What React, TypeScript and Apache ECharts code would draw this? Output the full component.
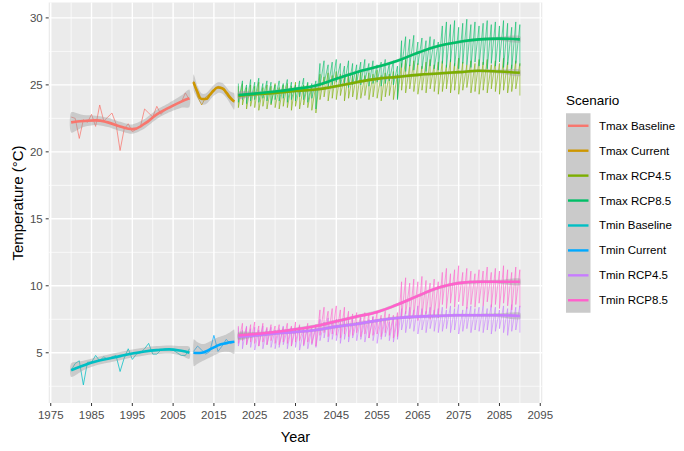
import React, { useEffect, useRef } from "react";
import * as echarts from "echarts";

// ---- Scenario names and colours ----
const scenarioNames = [
  "Tmax Baseline",
  "Tmax Current",
  "Tmax RCP4.5",
  "Tmax RCP8.5",
  "Tmin Baseline",
  "Tmin Current",
  "Tmin RCP4.5",
  "Tmin RCP8.5",
];
const scenarioColors = [
  "#F8766D",
  "#CD9600",
  "#7CAE00",
  "#00BE67",
  "#00BFC4",
  "#00A9FF",
  "#C77CFF",
  "#FF61CC",
];

// ---- Axis ticks ----
const xTicks = [1975, 1985, 1995, 2005, 2015, 2025, 2035, 2045, 2055, 2065, 2075, 2085, 2095];
const xMinorTicks = [1980, 1990, 2000, 2010, 2020, 2030, 2040, 2050, 2060, 2070, 2080, 2090];
const yTicks = [5, 10, 15, 20, 25, 30];
const yMinorTicks = [2.5, 7.5, 12.5, 17.5, 22.5, 27.5];
const xRange = [1974.5, 2095.5];
const yRange = [1.25, 31.15];

// ---- Observed annual values ----
const baselineStart = 1980; // 1980-2009
const currentStart = 2010; // 2010-2020
const rcpStart = 2021; // 2021-2090

const tmaxBaseline = [
  22.6, 22.5, 21.0, 22.4, 22.2, 22.8, 21.9, 23.5, 22.3, 22.6,
  22.9, 22.1, 20.1, 21.7, 22.1, 21.5, 21.7, 21.9, 23.2, 22.9,
  22.6, 23.4, 22.8, 23.1, 23.3, 23.5, 23.6, 23.7, 24.4, 23.9,
];
const tminBaseline = [
  3.7, 4.2, 4.4, 2.6, 4.3, 4.3, 4.8, 4.4, 4.7, 4.5,
  4.7, 4.8, 3.6, 4.6, 5.3, 4.5, 4.9, 5.0, 5.3, 5.7,
  4.9, 4.9, 5.2, 5.3, 5.3, 5.2, 5.0, 4.8, 4.8, 5.3,
];
const tmaxCurrent = [25.3, 24.1, 23.5, 24.1, 24.3, 24.5, 24.9, 24.8, 24.3, 23.9, 23.7];
const tminCurrent = [5.1, 5.5, 5.2, 4.9, 5.1, 6.3, 5.1, 5.5, 6.0, 5.7, 5.8];

// ---- Projected annual ranges (high / low of each year) ----
const tmaxRcp85High = [
  25.1, 25.3, 25.0, 25.4, 25.2, 25.5, 25.1, 25.3, 25.2, 25.0,
  25.3, 25.1, 25.4, 25.2, 25.0, 25.3, 25.5, 25.2, 25.1, 25.3,
  26.6, 26.8, 26.5, 26.7, 26.9, 26.6, 26.4, 26.8, 26.6, 26.5,
  26.7, 26.9, 26.6, 26.8, 26.5, 26.7, 26.9, 26.6, 26.8, 26.4,
  28.3, 28.6, 28.4, 28.7, 28.2, 28.5, 28.3, 28.6, 28.4, 28.2,
  29.4, 29.7, 29.5, 29.8, 29.3, 29.6, 29.9, 29.5, 29.7, 29.4,
  29.6, 29.8, 29.5, 29.7, 29.4, 29.8, 29.6, 29.3, 29.7, 29.5,
];
const tmaxRcp85Low = [
  23.7, 23.9, 23.6, 23.8, 23.9, 23.7, 24.0, 23.8, 23.6, 23.9,
  23.8, 24.0, 23.7, 23.9, 23.8, 24.1, 23.9, 23.7, 24.0, 23.2,
  24.9, 25.1, 24.8, 25.0, 25.2, 24.9, 25.1, 24.8, 25.0, 25.2,
  25.0, 25.3, 24.9, 25.1, 25.2, 24.9, 25.1, 25.3, 25.0, 23.9,
  26.3, 26.0, 26.4, 26.1, 26.5, 26.2, 26.0, 26.4, 26.2, 26.1,
  26.6, 26.3, 26.7, 26.4, 26.2, 26.6, 26.5, 26.3, 26.7, 26.4,
  26.5, 26.2, 26.6, 26.4, 26.7, 26.3, 26.5, 26.2, 26.6, 26.4,
];
const tmaxRcp45High = [
  24.9, 25.1, 24.8, 25.0, 24.9, 25.2, 24.8, 25.0, 24.9, 25.1,
  24.8, 25.0, 25.1, 24.9, 25.2, 24.8, 25.0, 25.1, 24.9, 25.0,
  25.8, 25.6, 25.9, 25.7, 26.0, 25.8, 25.6, 25.9, 25.7, 25.8,
  26.0, 25.7, 25.9, 25.8, 26.1, 25.7, 25.9, 25.8, 26.0, 25.8,
  26.6, 26.9, 26.5, 26.8, 26.6, 26.4, 26.7, 26.9, 26.5, 26.7,
  26.8, 26.5, 26.9, 26.6, 27.0, 26.7, 26.5, 26.8, 26.6, 26.9,
  26.7, 26.9, 26.5, 26.8, 26.6, 27.0, 26.7, 26.5, 26.8, 26.6,
];
const tmaxRcp45Low = [
  23.3, 23.5, 23.2, 23.4, 23.3, 23.1, 23.4, 23.2, 23.5, 23.3,
  23.2, 23.4, 23.3, 23.1, 23.4, 23.2, 23.5, 23.3, 23.1, 22.9,
  23.9, 24.1, 23.8, 24.0, 23.9, 24.2, 23.8, 24.0, 24.1, 23.9,
  24.0, 24.2, 23.9, 24.1, 24.0, 23.8, 24.1, 24.2, 23.9, 24.0,
  24.6, 24.4, 24.7, 24.5, 24.3, 24.6, 24.4, 24.7, 24.5, 24.3,
  24.5, 24.7, 24.4, 24.6, 24.3, 24.6, 24.8, 24.4, 24.5, 24.3,
  24.6, 24.4, 24.7, 24.5, 24.3, 24.6, 24.4, 24.5, 24.7, 24.2,
];
const tminRcp85High = [
  7.0, 7.2, 6.9, 7.1, 7.3, 7.0, 7.2, 6.9, 7.1, 7.0,
  7.1, 6.9, 7.2, 7.0, 7.3, 7.1, 6.9, 7.2, 7.0, 7.1,
  8.2, 8.4, 8.1, 8.3, 8.5, 8.2, 8.4, 8.1, 7.9, 8.0,
  7.8, 8.0, 7.9, 7.7, 8.0, 7.8, 8.1, 7.9, 7.8, 8.0,
  10.3, 10.6, 10.2, 10.5, 10.3, 10.7, 10.4, 10.2, 10.5, 10.3,
  11.0, 11.3, 10.9, 11.2, 11.5, 11.0, 11.3, 11.1, 10.9, 11.2,
  11.1, 11.4, 11.0, 11.3, 11.1, 11.5, 11.2, 11.0, 11.4, 11.2,
];
const tminRcp85Low = [
  5.7, 5.9, 5.6, 5.8, 5.7, 5.5, 5.8, 5.6, 5.9, 5.7,
  5.6, 5.8, 5.7, 5.5, 5.8, 5.9, 5.6, 5.8, 5.7, 5.5,
  6.3, 6.5, 6.2, 6.4, 6.3, 6.1, 6.4, 6.2, 6.3, 6.5,
  6.2, 6.4, 6.1, 6.3, 6.4, 6.2, 6.5, 6.3, 6.1, 6.2,
  7.6, 7.9, 7.5, 7.8, 7.4, 7.7, 7.9, 7.5, 7.8, 7.6,
  8.6, 8.3, 8.7, 8.4, 8.8, 8.5, 8.3, 8.6, 8.4, 8.7,
  8.5, 8.8, 8.4, 8.6, 8.3, 8.7, 8.5, 8.2, 8.6, 8.4,
];
const tminRcp45High = [
  6.9, 6.7, 7.0, 6.8, 6.9, 6.7, 7.0, 6.8, 6.9, 6.7,
  6.8, 7.0, 6.7, 6.9, 6.8, 7.0, 6.7, 6.9, 6.8, 6.9,
  7.5, 7.3, 7.6, 7.4, 7.5, 7.3, 7.6, 7.4, 7.5, 7.3,
  7.6, 7.4, 7.5, 7.7, 7.4, 7.6, 7.5, 7.3, 7.6, 7.5,
  8.3, 8.1, 8.4, 8.2, 8.5, 8.3, 8.1, 8.4, 8.2, 8.3,
  8.4, 8.2, 8.5, 8.3, 8.6, 8.2, 8.4, 8.5, 8.3, 8.4,
  8.5, 8.3, 8.6, 8.4, 8.2, 8.5, 8.3, 8.6, 8.4, 8.5,
];
const tminRcp45Low = [
  5.5, 5.3, 5.6, 5.4, 5.2, 5.5, 5.3, 5.6, 5.4, 5.3,
  5.4, 5.6, 5.3, 5.5, 5.4, 5.2, 5.5, 5.3, 5.6, 5.4,
  5.9, 6.1, 5.8, 6.0, 5.9, 5.7, 6.0, 5.8, 6.1, 5.9,
  6.0, 5.8, 6.1, 5.9, 5.7, 6.0, 6.2, 5.9, 5.8, 6.0,
  6.7, 6.5, 6.8, 6.6, 6.4, 6.7, 6.5, 6.8, 6.6, 6.5,
  6.6, 6.8, 6.5, 6.7, 6.4, 6.6, 6.8, 6.5, 6.7, 6.6,
  6.5, 6.7, 6.4, 6.6, 6.8, 6.5, 6.3, 6.6, 6.7, 6.5,
];

// ---- Smoothed trends (fit) and their standard-error half widths (se) ----
const baselineFitYears = [1980, 1983, 1986, 1989, 1992, 1995, 1998, 2001, 2004, 2007, 2009];
const tmaxBaselineFit = [22.2, 22.3, 22.35, 22.2, 21.9, 21.7, 22.1, 22.8, 23.3, 23.75, 24.0];
const tmaxBaselineSe = [0.75, 0.45, 0.35, 0.35, 0.35, 0.35, 0.35, 0.35, 0.35, 0.45, 0.65];
const tminBaselineFit = [3.7, 4.05, 4.35, 4.55, 4.75, 4.95, 5.1, 5.2, 5.25, 5.15, 5.0];
const tminBaselineSe = [0.5, 0.35, 0.3, 0.3, 0.3, 0.3, 0.3, 0.3, 0.3, 0.35, 0.45];

const currentFitYears = [2010, 2011, 2012, 2013, 2014, 2015, 2016, 2017, 2018, 2019, 2020];
const tmaxCurrentFit = [25.2, 24.45, 23.95, 23.95, 24.25, 24.6, 24.8, 24.75, 24.45, 24.05, 23.75];
const tmaxCurrentSe = [0.6, 0.45, 0.4, 0.4, 0.4, 0.4, 0.4, 0.4, 0.4, 0.45, 0.6];
const tminCurrentFit = [5.0, 4.98, 5.0, 5.1, 5.25, 5.4, 5.55, 5.65, 5.72, 5.78, 5.82];
const tminCurrentSe = [1.0, 0.8, 0.65, 0.6, 0.6, 0.6, 0.6, 0.6, 0.65, 0.75, 0.9];

const rcpFitYears = [2021, 2025, 2030, 2035, 2040, 2045, 2050, 2055, 2060, 2065, 2070, 2075, 2080, 2085, 2090];
const tmaxRcp85Fit = [24.25, 24.35, 24.5, 24.7, 24.95, 25.45, 25.95, 26.35, 26.8, 27.4, 27.9, 28.2, 28.4, 28.45, 28.4];
const tmaxRcp45Fit = [24.2, 24.3, 24.4, 24.55, 24.65, 24.9, 25.2, 25.45, 25.6, 25.75, 25.85, 25.95, 26.05, 26.0, 25.9];
const tminRcp85Fit = [6.3, 6.4, 6.55, 6.75, 7.0, 7.35, 7.7, 8.05, 8.6, 9.25, 9.85, 10.2, 10.3, 10.3, 10.3];
const tminRcp45Fit = [6.2, 6.3, 6.45, 6.55, 6.7, 6.95, 7.15, 7.4, 7.6, 7.7, 7.75, 7.8, 7.8, 7.8, 7.75];
const rcpSe = [0.25, 0.15, 0.12, 0.12, 0.12, 0.12, 0.12, 0.12, 0.12, 0.12, 0.12, 0.12, 0.12, 0.15, 0.25];

const FONT = "'Liberation Sans', Arial, sans-serif";
const RIBBON = "rgba(153,153,153,0.4)";

function annual(start: number, values: number[]) {
  return values.map((v, i) => [start + i, v]);
}

// each projected year is a vertical stroke from its high to its low
function annualRange(start: number, high: number[], low: number[]) {
  const pts: number[][] = [];
  high.forEach((h, i) => {
    pts.push([start + i, h]);
    pts.push([start + i, low[i]]);
  });
  return pts;
}

function rawLine(name: string, color: string, data: number[][], width: number) {
  return {
    type: "line",
    name,
    data,
    showSymbol: false,
    symbol: "none",
    silent: true,
    z: 2,
    lineStyle: { color, width },
    itemStyle: { color },
  };
}

function ribbon(xs: number[], fit: number[], se: number[]) {
  return {
    type: "custom",
    coordinateSystem: "cartesian2d",
    silent: true,
    z: 3,
    data: xs.map((x, i) => [x, fit[i]]),
    renderItem: (params: any, api: any) => {
      if (params.dataIndex !== 0) return { type: "group", children: [] };
      const upper = xs.map((x, i) => api.coord([x, fit[i] + se[i]]));
      const lower = xs.map((x, i) => api.coord([x, fit[i] - se[i]])).reverse();
      return {
        type: "polygon",
        shape: { points: upper.concat(lower), smooth: 0.25 },
        style: { fill: RIBBON },
      };
    },
  };
}

function fitLine(color: string, xs: number[], fit: number[]) {
  return {
    type: "line",
    data: xs.map((x, i) => [x, fit[i]]),
    smooth: true,
    showSymbol: false,
    symbol: "none",
    silent: true,
    z: 4,
    lineStyle: { color, width: 2.6 },
    itemStyle: { color },
  };
}

// panel grid lines, tick marks and tick labels
// kind 0 = major y, 1 = minor y, 2 = major x, 3 = minor x
const axisDecor = {
  type: "custom",
  coordinateSystem: "cartesian2d",
  silent: true,
  z: 0,
  data: [
    ...yTicks.map((v) => [xRange[0], v, 0]),
    ...yMinorTicks.map((v) => [xRange[0], v, 1]),
    ...xTicks.map((v) => [v, yRange[0], 2]),
    ...xMinorTicks.map((v) => [v, yRange[0], 3]),
  ],
  renderItem: (params: any, api: any) => {
    const kind = api.value(2);
    const cs = params.coordSys;
    const major = kind % 2 === 0;
    const w = major ? 1.4 : 0.7;
    const p = api.coord([api.value(0), api.value(1)]);
    const children: any[] = [];
    if (kind < 2) {
      children.push({
        type: "line",
        shape: { x1: cs.x, y1: p[1], x2: cs.x + cs.width, y2: p[1] },
        style: { stroke: "#FFFFFF", lineWidth: w },
      });
      if (major) {
        children.push({
          type: "line",
          shape: { x1: cs.x - 3, y1: p[1], x2: cs.x, y2: p[1] },
          style: { stroke: "#333333", lineWidth: 1 },
        });
        children.push({
          type: "text",
          x: cs.x - 6,
          y: p[1],
          style: {
            text: String(api.value(1)),
            fill: "#4D4D4D",
            font: `11.5px ${FONT}`,
            align: "right",
            verticalAlign: "middle",
          },
        });
      }
    } else {
      children.push({
        type: "line",
        shape: { x1: p[0], y1: cs.y, x2: p[0], y2: cs.y + cs.height },
        style: { stroke: "#FFFFFF", lineWidth: w },
      });
      if (major) {
        const yb = cs.y + cs.height;
        children.push({
          type: "line",
          shape: { x1: p[0], y1: yb, x2: p[0], y2: yb + 3 },
          style: { stroke: "#333333", lineWidth: 1 },
        });
        children.push({
          type: "text",
          x: p[0],
          y: yb + 6,
          style: {
            text: String(api.value(0)),
            fill: "#4D4D4D",
            font: `11.5px ${FONT}`,
            align: "center",
            verticalAlign: "top",
          },
        });
      }
    }
    return { type: "group", children };
  },
};

function legendGraphic() {
  const left = 566;
  const top = 113.3;
  const keyH = 24.93;
  const keyW = 24.5;
  const children: any[] = [
    {
      type: "text",
      x: left,
      y: 100,
      style: { text: "Scenario", fill: "#000", font: `13.5px ${FONT}`, verticalAlign: "middle" },
    },
    {
      type: "rect",
      shape: { x: left, y: top, width: keyW, height: keyH * scenarioNames.length },
      style: { fill: "#CACACA" },
    },
  ];
  scenarioNames.forEach((name, i) => {
    const cy = top + keyH * (i + 0.5);
    children.push({
      type: "line",
      shape: { x1: left + 2, y1: cy, x2: left + keyW - 2, y2: cy },
      style: { stroke: scenarioColors[i], lineWidth: 2.4 },
    });
    children.push({
      type: "text",
      x: 599,
      y: cy,
      style: {
        text: name,
        fill: "#000",
        font: `11.5px ${FONT}`,
        verticalAlign: "middle",
      },
    });
  });
  return children;
}

export default function App() {
  const ref = useRef<HTMLDivElement>(null);

  useEffect(() => {
    if (!ref.current) return;
    const chart = echarts.init(ref.current, undefined, { renderer: "svg" });

    const c = scenarioColors;
    const series: any[] = [
      axisDecor,
      // observed / projected annual lines
      rawLine(scenarioNames[0], c[0], annual(baselineStart, tmaxBaseline), 0.75),
      rawLine(scenarioNames[1], c[1], annual(currentStart, tmaxCurrent), 0.75),
      rawLine(scenarioNames[2], c[2], annualRange(rcpStart, tmaxRcp45High, tmaxRcp45Low), 0.6),
      rawLine(scenarioNames[3], c[3], annualRange(rcpStart, tmaxRcp85High, tmaxRcp85Low), 0.6),
      rawLine(scenarioNames[4], c[4], annual(baselineStart, tminBaseline), 0.75),
      rawLine(scenarioNames[5], c[5], annual(currentStart, tminCurrent), 0.75),
      rawLine(scenarioNames[6], c[6], annualRange(rcpStart, tminRcp45High, tminRcp45Low), 0.6),
      rawLine(scenarioNames[7], c[7], annualRange(rcpStart, tminRcp85High, tminRcp85Low), 0.6),
      // confidence ribbons
      ribbon(baselineFitYears, tmaxBaselineFit, tmaxBaselineSe),
      ribbon(currentFitYears, tmaxCurrentFit, tmaxCurrentSe),
      ribbon(rcpFitYears, tmaxRcp45Fit, rcpSe),
      ribbon(rcpFitYears, tmaxRcp85Fit, rcpSe),
      ribbon(baselineFitYears, tminBaselineFit, tminBaselineSe),
      ribbon(currentFitYears, tminCurrentFit, tminCurrentSe),
      ribbon(rcpFitYears, tminRcp45Fit, rcpSe),
      ribbon(rcpFitYears, tminRcp85Fit, rcpSe),
      // smoothed trends
      fitLine(c[0], baselineFitYears, tmaxBaselineFit),
      fitLine(c[1], currentFitYears, tmaxCurrentFit),
      fitLine(c[2], rcpFitYears, tmaxRcp45Fit),
      fitLine(c[3], rcpFitYears, tmaxRcp85Fit),
      fitLine(c[4], baselineFitYears, tminBaselineFit),
      fitLine(c[5], currentFitYears, tminCurrentFit),
      fitLine(c[6], rcpFitYears, tminRcp45Fit),
      fitLine(c[7], rcpFitYears, tminRcp85Fit),
    ];

    chart.setOption({
      animation: false,
      backgroundColor: "#FFFFFF",
      grid: {
        left: 48.7,
        top: 2.5,
        width: 493.6,
        height: 400.5,
        show: true,
        backgroundColor: "#EBEBEB",
        borderWidth: 0,
      },
      xAxis: {
        type: "value",
        min: xRange[0],
        max: xRange[1],
        splitLine: { show: false },
        axisLine: { show: false },
        axisTick: { show: false },
        axisLabel: { show: false },
      },
      yAxis: {
        type: "value",
        min: yRange[0],
        max: yRange[1],
        splitLine: { show: false },
        axisLine: { show: false },
        axisTick: { show: false },
        axisLabel: { show: false },
      },
      graphic: [
        {
          type: "text",
          x: 17,
          y: 203,
          rotation: Math.PI / 2,
          style: {
            text: "Temperature (°C)",
            fill: "#000",
            font: `15px ${FONT}`,
            align: "center",
            verticalAlign: "middle",
          },
        },
        {
          type: "text",
          x: 295.5,
          y: 437,
          style: {
            text: "Year",
            fill: "#000",
            font: `14.5px ${FONT}`,
            align: "center",
            verticalAlign: "middle",
          },
        },
        ...legendGraphic(),
      ],
      series,
    });

    return () => chart.dispose();
  }, []);

  return (
    <div
      ref={ref}
      style={{ position: "fixed", left: 0, top: 0, width: 684, height: 451 }}
    />
  );
}
